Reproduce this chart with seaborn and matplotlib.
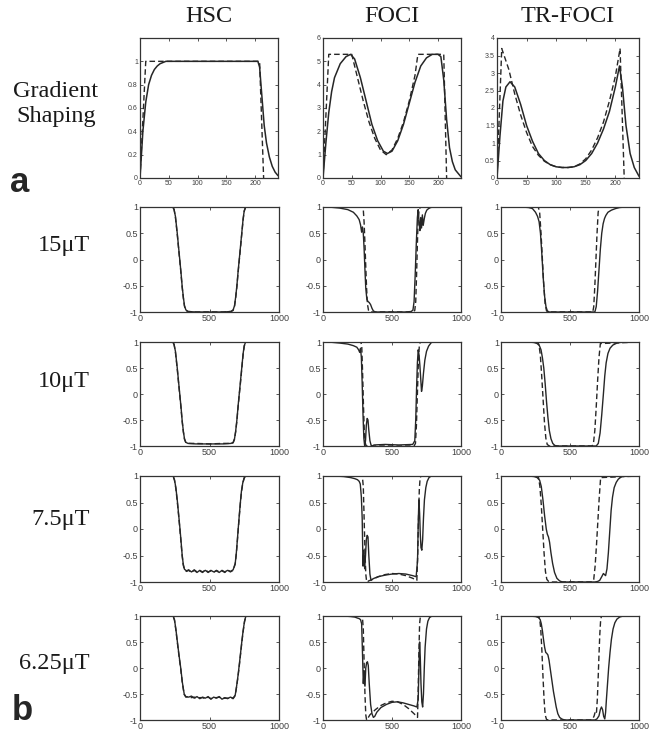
import matplotlib
matplotlib.use("Agg")
import matplotlib.pyplot as plt
import seaborn as sns

# ---- column / row labels ----
col_titles = ["HSC", "FOCI", "TR-FOCI"]
row_labels = ["15\u03bcT", "10\u03bcT", "7.5\u03bcT", "6.25\u03bcT"]

# ---- top row: gradient shaping (x: 0..240) ----
g_hsc_dash_x = [0, 10, 208, 215]
g_hsc_dash_y = [0, 1, 1, 0]
g_hsc_x = [0, 5, 10, 15, 20, 25, 30, 35, 40, 45, 50, 205, 208, 212, 216, 220, 225, 230, 235, 240]
g_hsc_y = [0, 0.4, 0.65, 0.8, 0.88, 0.93, 0.96, 0.98, 0.99, 1, 1, 1, 0.95, 0.7, 0.45, 0.3, 0.18, 0.1, 0.05, 0.02]

g_foci_dash_x = [0, 10, 50, 60, 70, 80, 90, 100, 110, 120, 130, 140, 150, 160, 165, 210, 215]
g_foci_dash_y = [0, 5.3, 5.3, 4.3, 3.3, 2.4, 1.7, 1.2, 1.0, 1.2, 1.7, 2.4, 3.3, 4.4, 5.3, 5.3, 0]
g_foci_x = [0, 5, 10, 15, 20, 30, 40, 48, 55, 65, 75, 85, 95, 105, 112, 120, 130, 140, 150, 160,
            170, 180, 190, 200, 205, 210, 215, 220, 225, 230, 240]
g_foci_y = [0, 1.5, 2.8, 3.7, 4.3, 4.9, 5.2, 5.3, 5.1, 4.3, 3.3, 2.3, 1.6, 1.15, 1.05, 1.15, 1.6, 2.3, 3.2, 4.1,
            4.8, 5.15, 5.3, 5.3, 5.2, 4.2, 2.5, 1.3, 0.7, 0.35, 0.05]

g_tr_dash_x = [0, 8, 20, 30, 40, 50, 60, 70, 80, 90, 100, 110, 120, 130, 140, 150, 160, 170, 180, 190,
               200, 208, 215]
g_tr_dash_y = [0, 3.7, 3.1, 2.4, 1.8, 1.3, 0.9, 0.65, 0.48, 0.38, 0.32, 0.3, 0.3, 0.32, 0.4, 0.55, 0.8, 1.15, 1.6, 2.2,
               2.9, 3.7, 0]
g_tr_x = [0, 5, 10, 15, 22, 30, 40, 50, 60, 70, 80, 90, 100, 110, 120, 130, 140, 150, 160, 170,
          180, 190, 200, 207, 212, 218, 225, 232, 240]
g_tr_y = [0, 1.2, 2.2, 2.6, 2.75, 2.6, 2.1, 1.5, 1.05, 0.7, 0.5, 0.38, 0.32, 0.3, 0.3, 0.32, 0.38, 0.5, 0.7, 1.0,
          1.4, 1.9, 2.6, 3.2, 2.6, 1.5, 0.7, 0.3, 0.05]

# ---- HSC profiles ----
hsc_a_x = [0, 235, 245, 255, 268, 277, 286, 295, 303, 312, 320, 330, 345, 400, 500, 600, 655, 670, 680, 688,
           697, 705, 714, 723, 732, 742, 750, 760, 1000]
hsc15_y = [1, 1, 0.95, 0.82, 0.5, 0.25, 0, -0.25, -0.5, -0.72, -0.88, -0.96, -0.99, -1, -1, -1, -0.99, -0.96, -0.88, -0.72,
           -0.5, -0.25, 0, 0.25, 0.5, 0.78, 0.93, 1, 1]
hsc15_dash_y = [1, 1, 0.96, 0.8, 0.48, 0.22, -0.02, -0.27, -0.52, -0.74, -0.89, -0.97, -0.99, -1, -1, -1, -0.99, -0.97, -0.89, -0.74,
                -0.52, -0.27, -0.02, 0.22, 0.48, 0.76, 0.92, 1, 1]
hsc10_y = [1, 1, 0.95, 0.82, 0.5, 0.25, 0, -0.25, -0.5, -0.72, -0.86, -0.93, -0.95, -0.96, -0.96, -0.96, -0.95, -0.93, -0.86, -0.72,
           -0.5, -0.25, 0, 0.25, 0.5, 0.78, 0.93, 1, 1]
hsc10_dash_y = [1, 1, 0.96, 0.8, 0.48, 0.22, -0.02, -0.27, -0.52, -0.73, -0.87, -0.94, -0.95, -0.95, -0.96, -0.95, -0.95, -0.94, -0.87, -0.73,
                -0.52, -0.27, -0.02, 0.22, 0.48, 0.76, 0.92, 1, 1]

hsc_b_x = [0, 238, 248, 258, 268, 277, 286, 295, 303, 311, 320, 335, 350, 370, 390, 410, 430, 450, 470, 490,
           510, 530, 550, 570, 590, 610, 630, 650, 670, 685, 693, 700, 707, 714, 722, 730, 740, 750, 760, 1000]
hsc75_y = [1, 1, 0.93, 0.78, 0.55, 0.3, 0.05, -0.22, -0.48, -0.66, -0.76, -0.79, -0.77, -0.81, -0.78, -0.82, -0.78, -0.81, -0.78, -0.82,
           -0.78, -0.81, -0.79, -0.82, -0.78, -0.81, -0.78, -0.8, -0.77, -0.65, -0.45, -0.22, 0.02, 0.25, 0.5, 0.72, 0.88, 0.97, 1, 1]
hsc75_dash_y = [1, 1, 0.92, 0.76, 0.52, 0.28, 0.02, -0.25, -0.5, -0.68, -0.77, -0.8, -0.78, -0.82, -0.77, -0.81, -0.79, -0.82, -0.77, -0.81,
                -0.79, -0.82, -0.78, -0.81, -0.79, -0.82, -0.77, -0.81, -0.78, -0.66, -0.47, -0.24, 0.0, 0.23, 0.48, 0.7, 0.87, 0.96, 1, 1]

hsc_c_x = [0, 238, 248, 258, 270, 282, 293, 305, 318, 330, 350, 370, 390, 410, 430, 450, 470, 490, 510, 530,
           550, 570, 590, 610, 630, 650, 670, 685, 695, 705, 715, 724, 733, 742, 752, 762, 1000]
hsc625_y = [1, 1, 0.93, 0.75, 0.48, 0.22, 0, -0.28, -0.5, -0.55, -0.56, -0.54, -0.58, -0.55, -0.59, -0.56, -0.58, -0.55, -0.6, -0.56,
            -0.58, -0.55, -0.6, -0.57, -0.59, -0.56, -0.58, -0.52, -0.35, -0.15, 0.08, 0.3, 0.52, 0.72, 0.9, 1, 1]
hsc625_dash_y = [1, 1, 0.92, 0.73, 0.46, 0.2, -0.02, -0.3, -0.51, -0.56, -0.55, -0.57, -0.56, -0.58, -0.57, -0.57, -0.59, -0.56, -0.59, -0.57,
                 -0.57, -0.56, -0.59, -0.58, -0.58, -0.57, -0.59, -0.53, -0.36, -0.17, 0.06, 0.28, 0.5, 0.7, 0.89, 1, 1]

# ---- FOCI profiles ----
foci15_x = [0, 60, 120, 180, 220, 245, 262, 272, 280, 286, 292, 298, 304, 310, 318, 326, 335, 345, 355, 365,
            380, 420, 500, 600, 640, 652, 660, 668, 676, 684, 690, 696, 702, 708, 714, 720, 726, 734, 742, 752,
            765, 780, 800, 1000]
foci15_y = [1, 0.995, 0.98, 0.95, 0.9, 0.83, 0.76, 0.66, 0.52, 0.62, 0.5, 0.2, -0.2, -0.55, -0.76, -0.8, -0.82, -0.86, -0.93, -0.98,
            -1, -1, -1, -1, -0.99, -0.96, -0.8, -0.3, 0.3, 0.8, 0.95, 0.7, 0.55, 0.8, 0.6, 0.85, 0.65, 0.78, 0.88, 0.94,
            0.97, 0.99, 1, 1]
foci15_dash_x = [0, 285, 292, 298, 304, 310, 316, 322, 330, 340, 360, 500, 650, 665, 672, 678, 684, 690, 698, 710, 1000]
foci15_dash_y = [1, 1, 0.95, 0.7, 0.3, -0.15, -0.55, -0.85, -0.97, -1, -1, -1, -1, -0.97, -0.8, -0.3, 0.3, 0.8, 0.97, 1, 1]

foci10_x = [0, 60, 120, 180, 220, 245, 258, 266, 272, 278, 284, 290, 296, 302, 308, 314, 320, 326, 332, 340,
            348, 356, 370, 450, 550, 650, 665, 672, 678, 684, 690, 696, 702, 708, 714, 720, 728, 738, 750, 765,
            785, 800, 1000]
foci10_y = [1, 0.995, 0.98, 0.96, 0.93, 0.9, 0.85, 0.8, 0.88, 0.7, 0.2, -0.4, -0.85, -1, -0.9, -0.6, -0.47, -0.5, -0.7, -0.9,
            -0.98, -1, -0.98, -0.97, -0.98, -0.97, -0.9, -0.5, 0.1, 0.6, 0.85, 0.75, 0.55, 0.3, 0.05, 0.15, 0.4, 0.65, 0.82, 0.92,
            0.99, 1, 1]
foci10_dash_x = [0, 275, 281, 287, 293, 299, 305, 312, 320, 340, 500, 660, 670, 677, 684, 691, 698, 705, 720, 1000]
foci10_dash_y = [1, 1, 0.9, 0.4, -0.2, -0.7, -0.93, -0.99, -1, -1, -1, -1, -0.95, -0.6, 0, 0.6, 0.93, 1, 1, 1]

foci75_x = [0, 80, 150, 200, 230, 250, 262, 270, 278, 284, 290, 296, 302, 308, 314, 320, 326, 332, 340, 348,
            356, 370, 400, 450, 500, 550, 600, 650, 675, 685, 690, 695, 700, 705, 710, 716, 722, 728, 735, 745,
            755, 768, 785, 1000]
foci75_y = [1, 1, 0.99, 0.97, 0.95, 0.93, 0.9, 0.85, 0.6, 0.2, -0.7, -0.4, -0.75, -0.5, -0.2, -0.12, -0.15, -0.5, -0.85, -0.97,
            -0.95, -0.93, -0.9, -0.87, -0.85, -0.84, -0.85, -0.88, -0.9, -0.6, 0.1, 0.55, 0.3, -0.1, -0.35, -0.4, -0.2, 0.2, 0.55, 0.78,
            0.9, 0.97, 1, 1]
foci75_dash_x = [0, 285, 292, 298, 304, 310, 316, 322, 330, 360, 400, 450, 500, 550, 600, 650, 680, 686, 692, 698,
                 704, 712, 1000]
foci75_dash_y = [1, 1, 0.8, 0.2, -0.4, -0.85, -0.99, -1, -0.98, -0.95, -0.9, -0.86, -0.84, -0.85, -0.88, -0.93, -0.97, -0.5, 0.2, 0.75,
                 0.97, 1, 1]

foci625_x = [0, 80, 150, 200, 230, 250, 262, 272, 280, 286, 292, 298, 304, 310, 316, 322, 328, 335, 345, 355,
             365, 375, 390, 420, 460, 500, 540, 580, 620, 660, 680, 690, 695, 700, 705, 710, 716, 722, 728, 734,
             740, 750, 760, 772, 790, 1000]
foci625_y = [1, 1, 1, 0.99, 0.98, 0.96, 0.95, 0.93, 0.85, 0.3, -0.3, -0.05, -0.35, 0.0, 0.1, 0.12, 0.05, -0.3, -0.7, -0.88,
             -0.95, -0.93, -0.85, -0.76, -0.7, -0.66, -0.65, -0.67, -0.7, -0.73, -0.75, -0.6, 0.0, 0.5, 0.2, -0.3, -0.65, -0.75, -0.5, 0.0,
             0.4, 0.75, 0.9, 0.97, 1, 1]
foci625_dash_x = [0, 285, 292, 298, 304, 310, 316, 324, 340, 380, 420, 460, 500, 540, 580, 620, 660, 685, 690, 695,
                  700, 706, 1000]
foci625_dash_y = [1, 1, 0.75, 0.1, -0.5, -0.9, -1, -0.97, -0.9, -0.8, -0.72, -0.67, -0.64, -0.65, -0.7, -0.78, -0.88, -0.95, -0.4, 0.3,
                  0.85, 1, 1]

# ---- TR-FOCI profiles ----
tr15_x = [0, 150, 200, 228, 250, 265, 276, 286, 296, 306, 316, 326, 336, 350, 400, 500, 600, 680, 690, 700,
          710, 720, 730, 740, 750, 760, 775, 800, 830, 860, 900, 1000]
tr15_y = [1, 1, 0.99, 0.97, 0.9, 0.82, 0.72, 0.5, 0.1, -0.35, -0.7, -0.9, -0.98, -1, -1, -1, -1, -1, -0.9, -0.6,
          -0.2, 0.2, 0.5, 0.68, 0.78, 0.84, 0.9, 0.94, 0.97, 0.99, 1, 1]
tr15_dash_x = [0, 270, 280, 290, 300, 310, 320, 330, 345, 500, 665, 672, 680, 688, 696, 704, 712, 1000]
tr15_dash_y = [1, 1, 0.9, 0.5, 0, -0.5, -0.85, -0.98, -1, -1, -1, -0.9, -0.5, 0, 0.5, 0.9, 1, 1]

tr10_x = [0, 200, 240, 262, 278, 290, 300, 310, 320, 330, 340, 350, 362, 375, 390, 410, 500, 600, 690, 705,
          718, 730, 742, 752, 762, 775, 790, 810, 840, 870, 900, 1000]
tr10_y = [1, 1, 0.99, 0.97, 0.93, 0.85, 0.7, 0.5, 0.2, -0.15, -0.45, -0.7, -0.86, -0.95, -0.99, -1, -1, -1, -1, -0.95,
          -0.75, -0.4, 0, 0.35, 0.6, 0.78, 0.88, 0.94, 0.98, 0.995, 1, 1]
tr10_dash_x = [0, 265, 275, 285, 295, 305, 315, 325, 335, 350, 500, 660, 670, 680, 690, 700, 710, 720, 1000]
tr10_dash_y = [1, 1, 0.95, 0.75, 0.35, -0.1, -0.55, -0.85, -0.97, -1, -1, -1, -0.95, -0.7, -0.25, 0.25, 0.7, 0.97, 1]

tr75_x = [0, 200, 240, 262, 280, 292, 304, 316, 328, 336, 344, 352, 362, 374, 388, 405, 425, 445, 500, 600,
          680, 700, 715, 730, 742, 750, 758, 768, 778, 788, 798, 808, 820, 835, 850, 865, 880, 1000]
tr75_y = [1, 1, 0.99, 0.97, 0.92, 0.8, 0.55, 0.25, 0.0, -0.1, -0.15, -0.25, -0.45, -0.65, -0.82, -0.93, -0.98, -1, -1, -1,
          -1, -0.99, -0.97, -0.9, -0.84, -0.86, -0.88, -0.75, -0.45, -0.05, 0.35, 0.6, 0.78, 0.88, 0.94, 0.97, 1, 1]
tr75_dash_x = [0, 260, 272, 282, 292, 302, 312, 322, 332, 345, 360, 500, 660, 672, 682, 692, 702, 712, 722, 1000]
tr75_dash_y = [1, 1, 0.97, 0.8, 0.45, 0.0, -0.45, -0.8, -0.95, -0.99, -1, -1, -1, -0.95, -0.7, -0.3, 0.15, 0.6, 0.97, 1]

tr625_x = [0, 200, 250, 272, 284, 292, 300, 308, 316, 324, 332, 340, 348, 356, 364, 372, 380, 390, 400, 412,
           425, 440, 460, 500, 600, 680, 695, 710, 720, 728, 736, 744, 752, 758, 764, 772, 780, 790, 800, 812,
           825, 840, 860, 885, 1000]
tr625_y = [1, 1, 0.99, 0.97, 0.93, 0.85, 0.72, 0.55, 0.4, 0.3, 0.28, 0.25, 0.15, 0.0, -0.15, -0.3, -0.45, -0.6, -0.75, -0.88,
           -0.95, -0.98, -1, -1, -1, -1, -0.98, -0.92, -0.8, -0.75, -0.8, -0.93, -0.98, -0.85, -0.6, -0.3, 0.0, 0.3, 0.55, 0.75,
           0.87, 0.94, 0.98, 1, 1]
tr625_dash_x = [0, 270, 280, 288, 296, 304, 312, 320, 330, 345, 500, 650, 665, 675, 685, 692, 698, 704, 710, 716,
                722, 728, 1000]
tr625_dash_y = [1, 1, 0.95, 0.75, 0.35, -0.15, -0.6, -0.9, -0.99, -1, -1, -1, -0.98, -0.92, -0.82, -0.85, -0.6, -0.2, 0.25, 0.65,
                0.92, 1, 1]

# ---- ticks ----
g_xticks = [0, 50, 100, 150, 200]
g_hsc_yticks = [0, 0.2, 0.4, 0.6, 0.8, 1]
g_hsc_ylabels = ["0", "0.2", "0.4", "0.6", "0.8", "1"]
g_foci_yticks = [0, 1, 2, 3, 4, 5, 6]
g_tr_yticks = [0, 0.5, 1, 1.5, 2, 2.5, 3, 3.5, 4]
g_tr_ylabels = ["0", "0.5", "1", "1.5", "2", "2.5", "3", "3.5", "4"]
m_xticks = [0, 500, 1000]
m_yticks = [-1, -0.5, 0, 0.5, 1]
m_ylabels = ["-1", "-0.5", "0", "0.5", "1"]

# panels: (solid x, solid y, dashed x, dashed y)
top_panels = [
    (g_hsc_x, g_hsc_y, g_hsc_dash_x, g_hsc_dash_y, 1.2, g_hsc_yticks, g_hsc_ylabels),
    (g_foci_x, g_foci_y, g_foci_dash_x, g_foci_dash_y, 6, g_foci_yticks, [str(v) for v in g_foci_yticks]),
    (g_tr_x, g_tr_y, g_tr_dash_x, g_tr_dash_y, 4, g_tr_yticks, g_tr_ylabels),
]
grid = [
    [(hsc_a_x, hsc15_y, hsc_a_x, hsc15_dash_y), (foci15_x, foci15_y, foci15_dash_x, foci15_dash_y), (tr15_x, tr15_y, tr15_dash_x, tr15_dash_y)],
    [(hsc_a_x, hsc10_y, hsc_a_x, hsc10_dash_y), (foci10_x, foci10_y, foci10_dash_x, foci10_dash_y), (tr10_x, tr10_y, tr10_dash_x, tr10_dash_y)],
    [(hsc_b_x, hsc75_y, hsc_b_x, hsc75_dash_y), (foci75_x, foci75_y, foci75_dash_x, foci75_dash_y), (tr75_x, tr75_y, tr75_dash_x, tr75_dash_y)],
    [(hsc_c_x, hsc625_y, hsc_c_x, hsc625_dash_y), (foci625_x, foci625_y, foci625_dash_x, foci625_dash_y), (tr625_x, tr625_y, tr625_dash_x, tr625_dash_y)],
]

sns.set_style("ticks")
plt.rcParams.update({
    "xtick.direction": "in", "ytick.direction": "in",
    "xtick.top": True, "ytick.right": True,
    "xtick.major.size": 2.5, "ytick.major.size": 2.5,
    "xtick.major.width": 0.6, "ytick.major.width": 0.6,
    "xtick.color": "#3a3a3a", "ytick.color": "#3a3a3a",
    "xtick.labelcolor": "#404040", "ytick.labelcolor": "#404040",
    "axes.edgecolor": "#333333", "axes.linewidth": 0.9,
})
plt.rcParams["font.family"] = ["Liberation Sans", "DejaVu Sans"]

W, H = 652, 735
fig = plt.figure(figsize=(W / 100, H / 100), dpi=100)
fig.patch.set_facecolor("white")

line_col = "#262626"
dash = (0, (4, 2.2))
serif_size = 17.5


def box(x0, x1, y0, y1):
    return [x0 / W, 1 - y1 / H, (x1 - x0) / W, (y1 - y0) / H]


top_cols = [(140, 278), (323, 461), (497, 639)]
cols = [(140, 279), (323, 461), (501, 639)]
rows = [(207, 312), (342, 446), (476, 582), (616, 720)]

for j, (sx, sy, dx, dy, ymax, yt, yl) in enumerate(top_panels):
    ax = fig.add_axes(box(top_cols[j][0], top_cols[j][1], 38, 178))
    sns.lineplot(x=dx, y=dy, ax=ax, color=line_col, lw=1.0, linestyle=dash, estimator=None, sort=False)
    sns.lineplot(x=sx, y=sy, ax=ax, color=line_col, lw=1.1, estimator=None, sort=False)
    ax.set_xlim(0, 240)
    ax.set_ylim(0, ymax)
    ax.set_xticks(g_xticks)
    ax.set_xticklabels([str(v) for v in g_xticks], fontsize=5)
    ax.set_yticks(yt)
    ax.set_yticklabels(yl, fontsize=5)
    ax.tick_params(pad=1.5, length=2)
    ax.set_xlabel("")
    ax.set_ylabel("")
    fig.text((top_cols[j][0] + top_cols[j][1]) / 2 / W, 1 - 17 / H, col_titles[j],
             ha="center", va="center", fontsize=serif_size, family="Liberation Serif", color="#1a1a1a")

for i, row in enumerate(grid):
    for j, (sx, sy, dx, dy) in enumerate(row):
        ax = fig.add_axes(box(cols[j][0], cols[j][1], rows[i][0], rows[i][1]))
        sns.lineplot(x=dx, y=dy, ax=ax, color=line_col, lw=1.0, linestyle=dash, estimator=None, sort=False)
        sns.lineplot(x=sx, y=sy, ax=ax, color=line_col, lw=1.0, estimator=None, sort=False)
        ax.set_xlim(0, 1000)
        ax.set_ylim(-1, 1)
        ax.set_xticks(m_xticks)
        ax.set_xticklabels([str(v) for v in m_xticks], fontsize=6.5)
        ax.set_yticks(m_yticks)
        ax.set_yticklabels(m_ylabels, fontsize=6.5)
        ax.tick_params(pad=1.5)
        ax.set_xlabel("")
        ax.set_ylabel("")
    fig.text(90 / W, 1 - [246, 382, 520, 664][i] / H, row_labels[i], ha="right", va="center",
             fontsize=serif_size, family="Liberation Serif", color="#1a1a1a")

fig.text(56 / W, 1 - 104 / H, "Gradient\nShaping", ha="center", va="center", fontsize=serif_size,
         family="Liberation Serif", linespacing=1.2, color="#1a1a1a")
fig.text(10 / W, 1 - 192 / H, "a", ha="left", va="baseline", fontsize=25, fontweight="bold")
fig.text(12 / W, 1 - 720 / H, "b", ha="left", va="baseline", fontsize=25, fontweight="bold")

fig.savefig("out.png", dpi=100)
